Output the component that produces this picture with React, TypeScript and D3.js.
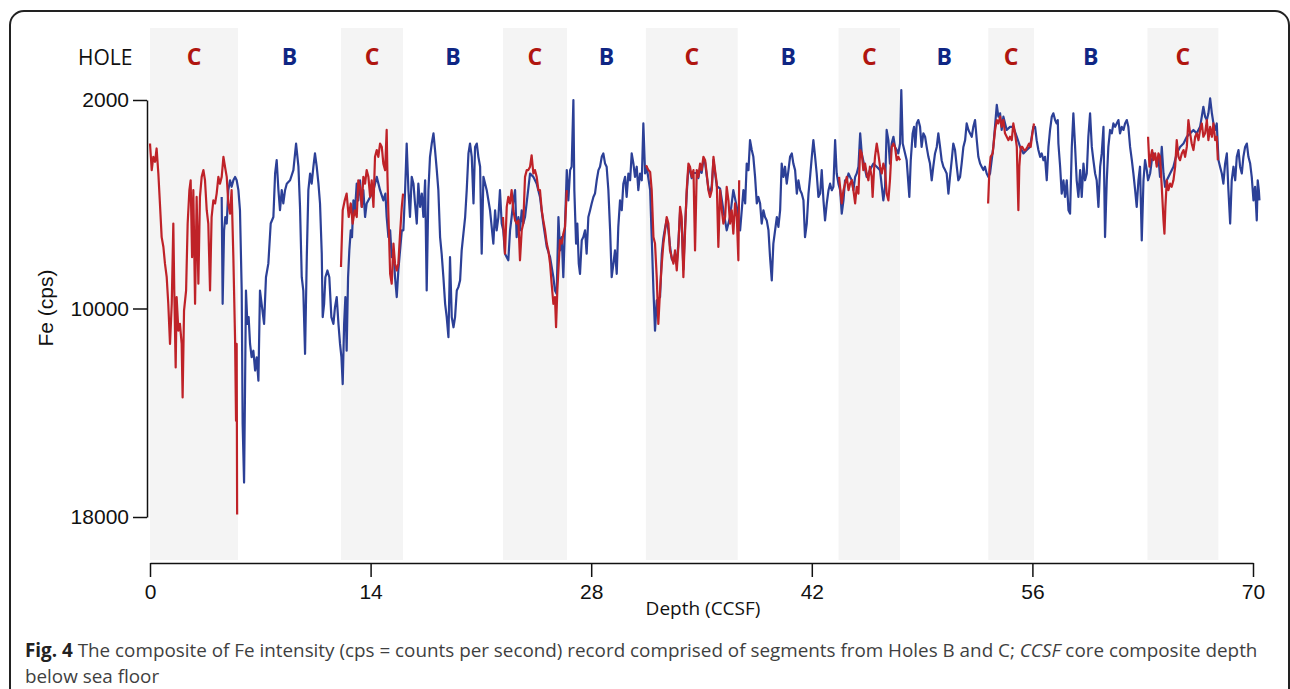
import React, { useEffect, useRef } from 'react';
import * as d3 from 'd3';

// hole segments along the composite: boundaries in CCSF depth
const holeNames = ['C', 'B', 'C', 'B', 'C', 'B', 'C', 'B', 'C', 'B', 'C', 'B', 'C'];
const holeBreaks = [0, 5.58, 12.12, 16.06, 22.4, 26.46, 31.47, 37.3, 43.7, 47.6, 53.2, 56.1, 63.3, 67.8];

const xTicks = [0, 14, 28, 42, 56, 70];
const yTicks = [2000, 10000, 18000];

// Hole B record [depth, Fe cps]
const blueSeries: [number, number][] = [
  [4.55, 5720], [4.61, 9820], [4.7, 7000], [4.78, 6490], [4.87, 6740], [4.97, 5460], [5.08, 5080], [5.18, 5330],
  [5.29, 5080], [5.4, 4950], [5.5, 5080], [5.61, 5460], [5.71, 6230], [5.82, 9310], [5.88, 14440], [5.97, 16680],
  [6.03, 13150], [6.09, 9310], [6.18, 10590], [6.26, 10330], [6.35, 11360], [6.45, 11870], [6.56, 11620], [6.67, 12380],
  [6.77, 11870], [6.88, 12770], [6.98, 9310], [7.11, 9950], [7.24, 10590], [7.36, 8800], [7.51, 8280], [7.66, 6740],
  [7.83, 6490], [7.94, 4820], [8.04, 4310], [8.15, 5460], [8.25, 6230], [8.36, 5460], [8.46, 5970], [8.57, 5460],
  [8.68, 5210], [8.89, 5080], [9.1, 4690], [9.27, 3670], [9.42, 4560], [9.52, 6100], [9.63, 8800], [9.73, 9310],
  [9.84, 11740], [9.95, 8030], [10.05, 5460], [10.16, 4820], [10.26, 5210], [10.37, 4560], [10.47, 4050], [10.58, 4560],
  [10.69, 5210], [10.79, 5970], [10.9, 7900], [10.96, 10330], [11.05, 9820], [11.13, 8800], [11.26, 8540], [11.38, 8800],
  [11.51, 10330], [11.64, 10590], [11.74, 9950], [11.85, 9560], [11.96, 10590], [12.06, 11360], [12.15, 11870], [12.23, 12900],
  [12.32, 10590], [12.4, 9560], [12.48, 11620], [12.57, 8800], [12.65, 7770], [12.74, 7000], [12.82, 7260], [12.91, 5850],
  [13.01, 6230], [13.12, 5210], [13.22, 5850], [13.33, 5080], [13.44, 6100], [13.54, 5460], [13.65, 6490], [13.75, 5970],
  [13.97, 5720], [14.18, 5460], [14.39, 4950], [14.6, 5460], [14.81, 5850], [14.94, 5590], [15.02, 6490], [15.13, 7260],
  [15.24, 7000], [15.34, 8030], [15.45, 7770], [15.55, 8800], [15.66, 9560], [15.76, 8540], [15.87, 7770], [15.98, 7000],
  [16.08, 7000], [16.19, 5460], [16.29, 3670], [16.4, 5460], [16.5, 6490], [16.61, 4950], [16.72, 5210], [16.82, 5970],
  [16.93, 6740], [17.03, 5210], [17.14, 6100], [17.25, 5590], [17.35, 6490], [17.46, 5080], [17.56, 9310], [17.67, 5460],
  [17.77, 4180], [17.88, 3670], [17.99, 3280], [18.09, 3920], [18.2, 4690], [18.3, 5460], [18.41, 7260], [18.51, 7900],
  [18.62, 8800], [18.73, 9820], [18.83, 10330], [18.94, 11100], [19.04, 8030], [19.15, 10330], [19.26, 10720], [19.36, 10330],
  [19.47, 9310], [19.57, 9180], [19.68, 8920], [19.78, 7770], [19.89, 7130], [20.0, 6490], [20.1, 5460], [20.21, 4050],
  [20.31, 3670], [20.42, 4180], [20.53, 5970], [20.63, 3800], [20.74, 3670], [20.84, 4180], [20.95, 4560], [21.05, 7900],
  [21.16, 4950], [21.37, 5460], [21.58, 6230], [21.79, 7510], [21.9, 6230], [22.0, 7000], [22.11, 6490], [22.21, 5460],
  [22.32, 6740], [22.42, 7000], [22.53, 7900], [22.64, 8030], [22.74, 8150], [22.85, 7000], [22.95, 6490], [23.06, 5850],
  [23.17, 5460], [23.27, 7260], [23.38, 6490], [23.48, 7000], [23.59, 6230], [23.69, 6740], [23.8, 6490], [24.12, 4820],
  [24.33, 4950], [24.54, 5210], [24.75, 5720], [24.96, 6740], [25.18, 7640], [25.39, 8030], [25.6, 8800], [25.7, 9310],
  [25.81, 9440], [25.92, 6490], [26.02, 7770], [26.13, 7260], [26.23, 8800], [26.34, 6740], [26.45, 4690], [26.55, 5850],
  [26.66, 4690], [26.76, 4560], [26.87, 2000], [26.93, 5460], [27.04, 7510], [27.12, 6740], [27.21, 8280], [27.29, 8670],
  [27.4, 7380], [27.5, 7260], [27.61, 7000], [27.71, 7900], [27.82, 6490], [27.93, 6230], [28.03, 5970], [28.14, 5720],
  [28.24, 5590], [28.35, 5080], [28.46, 4690], [28.56, 4560], [28.67, 4180], [28.77, 4050], [28.88, 4440], [28.98, 4560],
  [29.09, 5460], [29.2, 7000], [29.3, 8800], [29.41, 8280], [29.51, 7770], [29.62, 8670], [29.72, 6870], [29.83, 5850],
  [29.94, 6230], [30.04, 5210], [30.15, 4950], [30.25, 5720], [30.36, 4820], [30.47, 5080], [30.57, 4050], [30.68, 4440],
  [30.78, 4950], [30.89, 4560], [30.99, 5460], [31.1, 4820], [31.21, 5080], [31.31, 2900], [31.42, 4820], [31.52, 4560],
  [31.74, 5460], [31.84, 7260], [31.95, 9310], [32.05, 10850], [32.16, 9690], [32.37, 9560], [32.48, 7900], [32.58, 7300],
  [32.69, 6900], [32.79, 6600], [32.9, 7000], [33.0, 7600], [33.11, 8100], [33.22, 8200], [33.32, 7900], [33.43, 8300],
  [33.53, 7500], [33.64, 6300], [33.74, 6700], [33.85, 8500], [33.96, 6800], [34.06, 5600], [34.17, 4600], [34.27, 4700],
  [34.38, 5000], [34.49, 4800], [34.7, 4800], [34.8, 5000], [34.91, 4600], [35.01, 4800], [35.12, 4300], [35.23, 4400],
  [35.33, 4900], [35.44, 5400], [35.54, 5600], [35.65, 5300], [35.76, 4300], [35.86, 4800], [35.97, 5300], [36.18, 5400],
  [36.39, 6230], [36.6, 7000], [36.81, 6490], [37.02, 5460], [37.24, 6100], [37.45, 7000], [37.66, 5460], [37.77, 5970],
  [37.87, 4440], [37.98, 4690], [38.08, 3540], [38.19, 3920], [38.29, 4180], [38.4, 4950], [38.51, 5970], [38.61, 5720],
  [38.72, 5970], [38.82, 6740], [38.93, 6230], [39.03, 6490], [39.14, 6620], [39.25, 7000], [39.35, 8030], [39.46, 8920],
  [39.56, 7510], [39.67, 7000], [39.78, 6490], [39.88, 6870], [39.99, 6230], [40.09, 4440], [40.2, 4950], [40.3, 4560],
  [40.41, 5210], [40.52, 4690], [40.62, 4180], [40.73, 4050], [40.83, 4440], [40.94, 4690], [41.05, 5590], [41.15, 5080],
  [41.26, 5460], [41.36, 5590], [41.47, 5850], [41.57, 7260], [41.68, 6740], [41.79, 5590], [41.89, 4950], [42.0, 4180],
  [42.1, 3540], [42.21, 4180], [42.31, 4820], [42.42, 5720], [42.53, 5590], [42.63, 4690], [42.74, 5850], [42.84, 6620],
  [42.95, 5970], [43.06, 5460], [43.16, 5210], [43.27, 5460], [43.37, 5330], [43.48, 3540], [43.58, 4820], [43.69, 5210],
  [43.8, 5460], [43.9, 6360], [44.01, 5850], [44.11, 5080], [44.22, 5080], [44.33, 4820], [44.43, 4950], [44.54, 5080],
  [44.64, 5460], [44.75, 4950], [44.85, 4820], [44.96, 4560], [45.07, 3280], [45.17, 4050], [45.48, 4950], [45.69, 4690],
  [45.91, 4440], [46.12, 4560], [46.33, 4690], [46.54, 5850], [46.65, 5330], [46.75, 3150], [46.86, 3540], [46.96, 4440],
  [47.07, 3670], [47.18, 3410], [47.28, 3800], [47.39, 3920], [47.49, 4050], [47.6, 3670], [47.68, 1620], [47.77, 3670],
  [47.92, 4050], [48.02, 4310], [48.19, 5720], [48.28, 4310], [48.4, 3280], [48.49, 3030], [48.57, 3800], [48.66, 2900],
  [48.76, 2770], [48.87, 3030], [48.97, 3800], [49.08, 3280], [49.19, 3410], [49.29, 3800], [49.4, 4180], [49.5, 4440],
  [49.61, 5080], [49.71, 4560], [49.82, 4050], [49.93, 3800], [50.03, 3280], [50.14, 3800], [50.24, 4310], [50.35, 4560],
  [50.46, 4690], [50.56, 4820], [50.67, 5590], [50.77, 4950], [50.88, 4310], [50.98, 3670], [51.09, 3920], [51.2, 4560],
  [51.3, 5080], [51.41, 4950], [51.51, 4440], [51.62, 3800], [51.73, 3540], [51.83, 2900], [51.94, 3150], [52.04, 3280],
  [52.15, 3410], [52.25, 3030], [52.36, 2770], [52.47, 3540], [52.57, 4180], [52.68, 4440], [52.78, 4560], [52.89, 4690],
  [52.99, 4560], [53.1, 4820], [53.21, 4950], [53.31, 4820], [53.52, 3800], [53.74, 2190], [53.84, 2640], [53.95, 2510],
  [54.05, 3150], [54.16, 2640], [54.37, 3150], [54.58, 3030], [54.79, 3030], [55.01, 3410], [55.22, 3800], [55.43, 4050],
  [55.64, 3920], [55.85, 3800], [56.06, 3030], [56.17, 3030], [56.27, 3540], [56.38, 3920], [56.49, 4180], [56.59, 4050],
  [56.7, 4310], [56.8, 4180], [56.91, 5080], [57.02, 3800], [57.12, 3150], [57.23, 2640], [57.33, 2510], [57.44, 2770],
  [57.54, 2900], [57.61, 2770], [57.65, 3670], [57.76, 4560], [57.86, 5590], [57.97, 5080], [58.07, 5720], [58.18, 5080],
  [58.29, 6230], [58.39, 6360], [58.5, 3800], [58.6, 2510], [58.71, 3800], [58.81, 5080], [58.92, 5720], [59.03, 4690],
  [59.13, 5720], [59.24, 4440], [59.34, 5080], [59.45, 4820], [59.55, 3410], [59.66, 2510], [59.77, 3800], [59.87, 4310],
  [59.98, 4820], [60.08, 5080], [60.19, 6100], [60.3, 4560], [60.4, 4050], [60.51, 3030], [60.61, 7260], [60.72, 5080],
  [60.82, 3800], [60.93, 3150], [61.04, 3280], [61.14, 2900], [61.25, 3030], [61.35, 2900], [61.46, 2770], [61.56, 3280],
  [61.67, 3030], [61.78, 3150], [61.88, 2900], [61.99, 2770], [62.09, 3030], [62.2, 3800], [62.31, 4310], [62.41, 4820],
  [62.52, 5460], [62.62, 6100], [62.73, 5080], [62.83, 4560], [62.94, 7390], [63.05, 5080], [63.15, 4310], [63.26, 4690],
  [63.34, 5080], [63.47, 4820], [63.58, 4310], [63.68, 4050], [63.79, 4180], [63.89, 4440], [64.0, 4180], [64.1, 4950],
  [64.21, 3800], [64.32, 4820], [64.42, 5330], [64.53, 5080], [64.74, 4820], [64.95, 4560], [65.16, 4050], [65.37, 3800],
  [65.59, 3670], [65.8, 3410], [66.01, 3280], [66.22, 3150], [66.43, 3280], [66.64, 3030], [66.75, 2640], [66.85, 2260],
  [66.96, 2640], [67.07, 2770], [67.17, 2510], [67.28, 1940], [67.39, 2510], [67.49, 2900], [67.6, 3150], [67.7, 2900],
  [67.81, 4310], [67.91, 4560], [68.02, 4820], [68.12, 5210], [68.23, 4440], [68.34, 4050], [68.44, 5460], [68.55, 6740],
  [68.65, 5080], [68.76, 4560], [68.87, 5080], [68.97, 4180], [69.08, 3920], [69.18, 4560], [69.29, 4820], [69.39, 4180],
  [69.5, 3800], [69.61, 3670], [69.71, 4180], [69.82, 4440], [69.92, 4950], [70.03, 5850], [70.13, 5330], [70.24, 6620],
  [70.3, 5080], [70.37, 5460], [70.41, 5850],
];

// Hole C segments
const redC1: [number, number][] = [
  [0, 3670], [0.11, 4690], [0.21, 4180], [0.32, 4370], [0.42, 3860], [0.53, 4820], [0.63, 5970], [0.74, 7260],
  [0.85, 7640], [0.95, 8280], [1.06, 8800], [1.16, 9820], [1.27, 11360], [1.38, 9820], [1.48, 6740], [1.54, 9310],
  [1.63, 12260], [1.69, 9560], [1.8, 10850], [1.9, 10590], [2.01, 11360], [2.07, 13410], [2.16, 10080], [2.29, 9310],
  [2.39, 6740], [2.5, 5460], [2.58, 5080], [2.67, 8030], [2.75, 5460], [2.86, 9820], [2.96, 5720], [3.07, 9050],
  [3.17, 5720], [3.28, 4950], [3.39, 4690], [3.49, 5080], [3.6, 6230], [3.7, 6740], [3.81, 9310], [3.91, 6490],
  [4.02, 5850], [4.13, 5970], [4.23, 5590], [4.34, 4950], [4.44, 5210], [4.55, 4950], [4.66, 4180], [4.76, 4560],
  [4.87, 4950], [4.97, 5970], [5.08, 6360], [5.18, 5460], [5.29, 8030], [5.4, 11230], [5.46, 14310], [5.5, 11360],
  [5.53, 17900],
];
const redC2: [number, number][] = [
  [12.12, 8410], [12.23, 6230], [12.36, 5850], [12.48, 5590], [12.61, 6490], [12.74, 5970], [12.86, 6740], [12.99, 6230],
  [13.12, 6490], [13.22, 5080], [13.33, 5330], [13.44, 6100], [13.54, 4950], [13.65, 5210], [13.75, 4690], [13.86, 4950],
  [13.97, 5720], [14.07, 5080], [14.18, 6100], [14.28, 4180], [14.39, 3920], [14.49, 4180], [14.6, 3670], [14.71, 3800],
  [14.81, 4440], [14.92, 4690], [15.02, 3150], [15.07, 4950], [15.13, 6360], [15.24, 8670], [15.34, 9050], [15.45, 7510],
  [15.55, 8280], [15.66, 8540], [15.76, 8280], [15.87, 7130], [15.98, 6100], [16.06, 5590],
];
const redC3: [number, number][] = [
  [22.4, 6490], [22.53, 7900], [22.64, 6100], [22.74, 5720], [22.85, 5970], [22.95, 5460], [23.06, 6230], [23.17, 6620],
  [23.27, 6740], [23.38, 6620], [23.48, 8150], [23.59, 7000], [23.69, 6740], [23.8, 4950], [23.91, 4690], [24.01, 4690],
  [24.12, 4560], [24.22, 4120], [24.33, 4820], [24.43, 4690], [24.54, 4950], [24.65, 5460], [24.75, 5460], [24.86, 6230],
  [24.96, 6620], [25.07, 7000], [25.18, 7510], [25.28, 7770], [25.39, 8280], [25.49, 9050], [25.6, 9820], [25.7, 9560],
  [25.77, 10720], [25.85, 9310], [25.94, 8280], [26.02, 7380], [26.13, 7510], [26.23, 7130], [26.34, 6870], [26.45, 5460],
];
const redC4: [number, number][] = [
  [31.48, 4500], [31.63, 4690], [31.74, 4760], [31.84, 5460], [31.95, 7260], [32.05, 7510], [32.16, 8800], [32.26, 10590],
  [32.37, 9310], [32.48, 8280], [32.58, 7510], [32.69, 7000], [32.79, 6490], [32.9, 6740], [33.0, 7770], [33.11, 8030],
  [33.22, 8280], [33.32, 7770], [33.43, 8540], [33.53, 7640], [33.64, 6100], [33.74, 6490], [33.85, 8800], [33.96, 7000],
  [34.06, 5460], [34.17, 4440], [34.27, 4560], [34.38, 4950], [34.49, 4690], [34.59, 7770], [34.7, 4690], [34.8, 4950],
  [34.91, 4440], [35.01, 4690], [35.12, 4180], [35.23, 4310], [35.33, 4820], [35.44, 5460], [35.54, 5720], [35.65, 5460],
  [35.76, 4180], [35.86, 4690], [35.97, 5210], [36.07, 7640], [36.18, 5460], [36.29, 6230], [36.39, 6740], [36.5, 6490],
  [36.6, 5330], [36.71, 5850], [36.81, 6740], [36.92, 6230], [37.02, 7130], [37.13, 5970], [37.24, 6490], [37.34, 8150],
  [37.39, 5080],
];
const redC5: [number, number][] = [
  [43.73, 4950], [43.9, 5970], [44.01, 5460], [44.11, 5210], [44.22, 4950], [44.33, 5460], [44.43, 5210], [44.54, 5080],
  [44.64, 5460], [44.75, 5970], [44.85, 5330], [44.96, 5590], [45.07, 3920], [45.17, 4050], [45.27, 4690], [45.38, 4440],
  [45.48, 4820], [45.59, 5080], [45.69, 4560], [45.8, 4950], [45.86, 5720], [45.95, 4690], [46.01, 4180], [46.12, 3670],
  [46.22, 4050], [46.33, 4560], [46.44, 4820], [46.54, 4440], [46.65, 4690], [46.75, 5590], [46.86, 5850], [46.96, 5080],
  [47.07, 3800], [47.18, 3670], [47.28, 3800], [47.39, 4310], [47.49, 4180], [47.6, 4310],
];
const redC6: [number, number][] = [
  [53.19, 5970], [53.27, 4690], [53.35, 4180], [53.48, 4050], [53.63, 3150], [53.74, 2770], [53.84, 2900], [53.95, 2640],
  [54.05, 3030], [54.16, 2770], [54.26, 3280], [54.37, 3410], [54.48, 3540], [54.58, 3410], [54.69, 3540], [54.79, 2900],
  [54.9, 3280], [55.01, 3800], [55.11, 6230], [55.17, 4560], [55.26, 3800], [55.36, 3800], [55.47, 3920], [55.57, 3920],
  [55.68, 3800], [55.79, 3670], [55.89, 3800], [56.0, 3280], [56.1, 2900],
];
const redC7: [number, number][] = [
  [63.34, 3410], [63.43, 4560], [63.51, 4180], [63.6, 3920], [63.68, 4310], [63.79, 4050], [63.89, 4560], [64.0, 4050],
  [64.1, 4180], [64.21, 5330], [64.32, 6620], [64.38, 7130], [64.44, 6100], [64.53, 5080], [64.63, 5460], [64.74, 5210],
  [64.84, 5330], [64.95, 5080], [65.06, 4560], [65.16, 3540], [65.27, 4180], [65.37, 4310], [65.48, 4050], [65.59, 3920],
  [65.69, 4180], [65.8, 3800], [65.9, 2770], [66.01, 3280], [66.11, 3670], [66.22, 3920], [66.33, 3410], [66.43, 3280],
  [66.54, 3540], [66.64, 3150], [66.75, 2900], [66.85, 3410], [66.96, 3280], [67.07, 2770], [67.17, 3540], [67.28, 3030],
  [67.39, 3410], [67.49, 2900], [67.6, 3540], [67.7, 3410], [67.77, 4310],
];
const redSegments = [redC1, redC2, redC3, redC4, redC5, redC6, redC7];

const BLUE = '#2c4097';
const RED = '#bf2228';
const LABEL_C = '#b0150f';
const LABEL_B = '#0f2684';

const App: React.FC = () => {
  const svgRef = useRef<SVGSVGElement | null>(null);

  useEffect(() => {
    if (!svgRef.current) return;
    const width = 1290;
    const height = 689;

    const x = d3.scaleLinear().domain([0, 70]).range([150, 1253]);
    const y = d3.scaleLinear().domain([2000, 18000]).range([100, 517]);

    const svg = d3.select(svgRef.current)
      .attr('width', width)
      .attr('height', height)
      .attr('viewBox', `0 0 ${width} ${height}`);
    svg.selectAll('*').remove();

    // outer frame
    svg.append('rect')
      .attr('x', 10).attr('y', 11)
      .attr('width', 1279).attr('height', 720)
      .attr('rx', 14)
      .attr('fill', 'white')
      .attr('stroke', '#222')
      .attr('stroke-width', 2);

    // shaded hole C bands + hole labels
    const segs = holeNames.map((h, i) => ({ hole: h, from: holeBreaks[i], to: holeBreaks[i + 1] }));
    svg.append('g').selectAll('rect')
      .data(segs.filter(s => s.hole === 'C'))
      .join('rect')
      .attr('x', d => x(d.from))
      .attr('width', d => x(d.to) - x(d.from))
      .attr('y', 28)
      .attr('height', 532)
      .attr('fill', '#f4f4f4');

    svg.append('text')
      .attr('x', 78).attr('y', 65)
      .attr('font-family', '"Open Sans", sans-serif')
      .attr('font-size', 21)
      .attr('fill', '#111')
      .text('HOLE');

    svg.append('g').selectAll('text')
      .data(segs)
      .join('text')
      .attr('x', d => x((d.from + d.to) / 2))
      .attr('y', 65)
      .attr('text-anchor', 'middle')
      .attr('font-family', '"Open Sans", sans-serif')
      .attr('font-weight', 700)
      .attr('font-size', 23)
      .attr('fill', d => (d.hole === 'C' ? LABEL_C : LABEL_B))
      .text(d => d.hole);

    // y axis
    const yAxis = svg.append('g')
      .attr('transform', 'translate(147,0)')
      .call(d3.axisLeft(y).tickValues(yTicks).tickFormat(d3.format('d')).tickSize(14).tickSizeOuter(0).tickPadding(4));
    yAxis.selectAll('path, line').attr('stroke', '#111').attr('stroke-width', 1.5);
    yAxis.selectAll('text')
      .attr('font-family', '"Liberation Sans", Arial, sans-serif')
      .attr('font-size', 21)
      .attr('fill', '#111');

    // x axis
    const xAxis = svg.append('g')
      .attr('transform', 'translate(0,563)')
      .call(d3.axisBottom(x).tickValues(xTicks).tickSize(14).tickSizeOuter(0).tickPadding(7));
    xAxis.selectAll('path, line').attr('stroke', '#111').attr('stroke-width', 1.5);
    xAxis.selectAll('text')
      .attr('font-family', '"Liberation Sans", Arial, sans-serif')
      .attr('font-size', 21)
      .attr('fill', '#111');

    svg.append('text')
      .attr('x', 703).attr('y', 615)
      .attr('text-anchor', 'middle')
      .attr('font-family', '"Open Sans", sans-serif')
      .attr('font-size', 19)
      .attr('fill', '#111')
      .text('Depth (CCSF)');

    svg.append('text')
      .attr('transform', 'translate(53,308) rotate(-90)')
      .attr('text-anchor', 'middle')
      .attr('font-family', '"Liberation Sans", Arial, sans-serif')
      .attr('font-size', 21)
      .attr('fill', '#111')
      .text('Fe (cps)');

    // records
    const line = d3.line<[number, number]>()
      .x(d => x(d[0]))
      .y(d => y(d[1]));

    svg.append('path')
      .datum(blueSeries)
      .attr('d', line)
      .attr('fill', 'none')
      .attr('stroke', BLUE)
      .attr('stroke-width', 2.2)
      .attr('stroke-linejoin', 'round');

    svg.append('g').selectAll('path')
      .data(redSegments)
      .join('path')
      .attr('d', d => line(d))
      .attr('fill', 'none')
      .attr('stroke', RED)
      .attr('stroke-width', 2.2)
      .attr('stroke-linejoin', 'round');

    // caption
    const cap = svg.append('text')
      .attr('x', 25).attr('y', 657)
      .attr('font-family', '"Open Sans", sans-serif')
      .attr('font-size', 18.85)
      .attr('fill', '#3f3f3f');
    cap.append('tspan').attr('font-weight', 700).attr('fill', '#222').text('Fig. 4');
    cap.append('tspan').text(' The composite of Fe intensity (cps = counts per second) record comprised of segments from Holes B and C; ');
    cap.append('tspan').attr('font-style', 'italic').text('CCSF');
    cap.append('tspan').text(' core composite depth');

    svg.append('text')
      .attr('x', 25).attr('y', 683)
      .attr('font-family', '"Open Sans", sans-serif')
      .attr('font-size', 18.85)
      .attr('fill', '#3f3f3f')
      .text('below sea floor');
  }, []);

  return (
    <svg ref={svgRef} style={{ position: 'absolute', left: 0, top: 0, display: 'block' }}></svg>
  );
};

export default App;
